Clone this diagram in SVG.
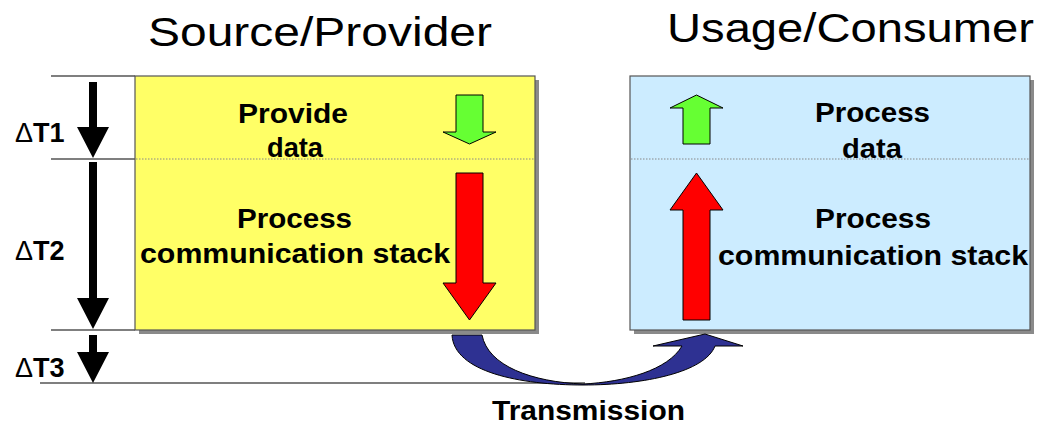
<svg xmlns="http://www.w3.org/2000/svg" width="1052" height="424" viewBox="0 0 1052 424">
<style>
.title{font-family:"Liberation Sans",Arial,sans-serif;font-size:41px;fill:#000}
.lbl{font-family:"Liberation Sans",Arial,sans-serif;font-size:27px;font-weight:bold;fill:#000}
.d{font-weight:normal}
.box{stroke:#555;stroke-width:1.2}
.shadow{fill:#8a8a8a}
.dot{stroke:#888;stroke-width:1;stroke-dasharray:1.5 1.5}
.rule{stroke:#000;stroke-width:1.2}
.blk{fill:#000}
.grn{fill:#66FF33;stroke:#000;stroke-width:1}
.red{fill:#FF0000;stroke:#000;stroke-width:1}
</style>
<rect width="1052" height="424" fill="#fff"/>
<text class="title" x="148" y="46" textLength="344" lengthAdjust="spacingAndGlyphs">Source/Provider</text>
<text class="title" x="667" y="42" textLength="367" lengthAdjust="spacingAndGlyphs">Usage/Consumer</text>

<g id="timeline">
<line class="rule" x1="51" y1="76" x2="135" y2="76"/>
<line class="rule" x1="51" y1="159" x2="135" y2="159"/>
<line class="rule" x1="51" y1="330" x2="135" y2="330"/>
<line class="rule" x1="40" y1="383" x2="585" y2="383"/>
<path class="blk" d="M89,82 H97 V127 H109 L93,158 L77,127 H89 Z"/>
<path class="blk" d="M89,162 H97 V298 H109 L93,329 L77,298 H89 Z"/>
<path class="blk" d="M89,335 H97 V352 H109 L93,383 L77,352 H89 Z"/>
<text class="lbl" x="15" y="142"><tspan class="d">Δ</tspan>T1</text>
<text class="lbl" x="15" y="260"><tspan class="d">Δ</tspan>T2</text>
<text class="lbl" x="15" y="377"><tspan class="d">Δ</tspan>T3</text>
</g>

<g id="source">
<rect class="shadow" x="139" y="80" width="400" height="254"/>
<rect class="box" x="135" y="76" width="400" height="254" fill="#FFFF66"/>
<line class="dot" x1="136" y1="159" x2="534" y2="159"/>
<text class="lbl" x="238" y="123" textLength="110" lengthAdjust="spacingAndGlyphs">Provide</text>
<text class="lbl" x="267" y="157" textLength="56" lengthAdjust="spacingAndGlyphs">data</text>
<text class="lbl" x="237" y="228" textLength="115" lengthAdjust="spacingAndGlyphs">Process</text>
<text class="lbl" x="140" y="263" textLength="310" lengthAdjust="spacingAndGlyphs">communication stack</text>
<path class="grn" d="M456,95 H483 V132 H496 L469.5,144 L443,132 H456 Z"/>
<path class="red" d="M456,173 H483 V283 H496 L469.5,320 L443,283 H456 Z"/>
</g>

<g id="consumer">
<rect class="shadow" x="634" y="80" width="400" height="254"/>
<rect class="box" x="630" y="76" width="400" height="254" fill="#CCECFF"/>
<line class="dot" x1="631" y1="159" x2="1029" y2="159"/>
<text class="lbl" x="815" y="122" textLength="115" lengthAdjust="spacingAndGlyphs">Process</text>
<text class="lbl" x="842" y="158" textLength="60" lengthAdjust="spacingAndGlyphs">data</text>
<text class="lbl" x="815" y="228" textLength="116" lengthAdjust="spacingAndGlyphs">Process</text>
<text class="lbl" x="718" y="265" textLength="310" lengthAdjust="spacingAndGlyphs">communication stack</text>
<path class="grn" d="M683,144 H710 V108 H723 L696.5,95 L670,108 H683 Z"/>
<path class="red" d="M683,320 H710 V210 H723 L696.5,173 L670,210 H683 Z"/>
</g>

<g id="connectors">
<path d="M452,335 C454,372 520,385 583,385 C645,385 705,372 715,346 L743,346 L705,334 L653,346 L682,346 C668,370 625,382 583,384 C532,382 488,366 482,335 Z" fill="#2E3192" stroke="#000" stroke-width="1"/>
<text class="lbl" x="492" y="420" textLength="193" lengthAdjust="spacingAndGlyphs">Transmission</text>
</g>
</svg>
